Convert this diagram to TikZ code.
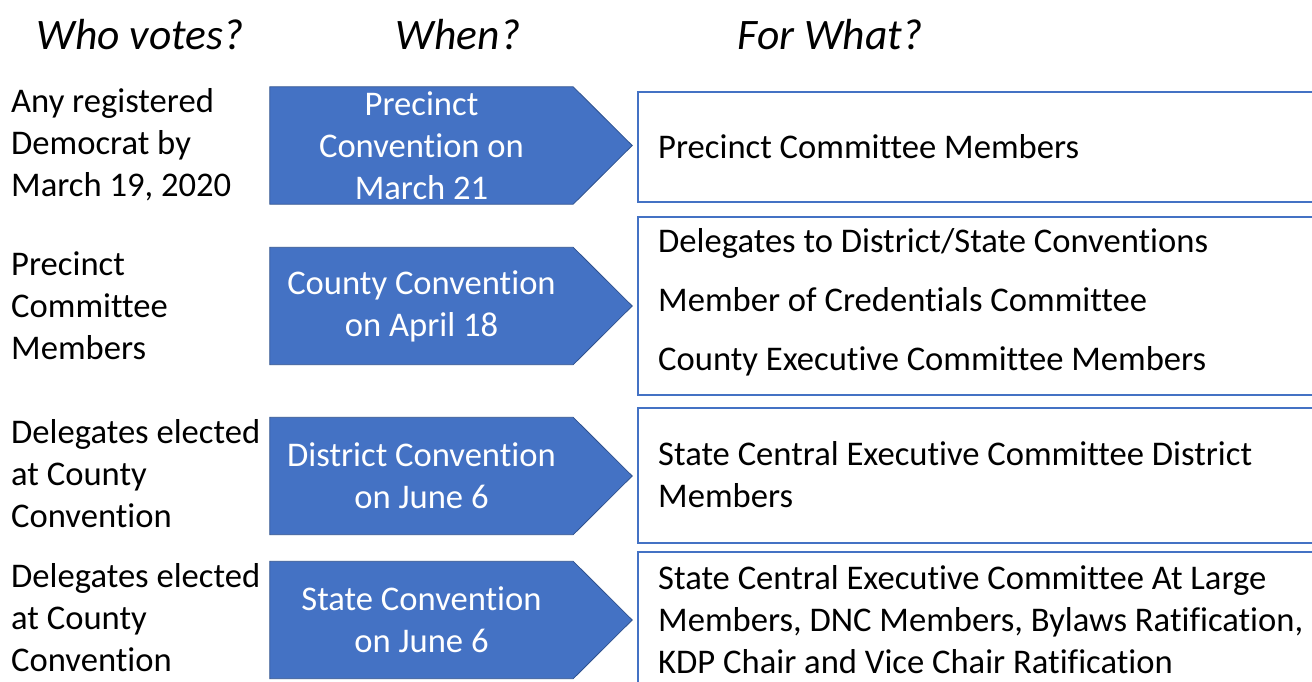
\documentclass[tikz,border=0pt]{standalone}
\usepackage{fontspec}
\setmainfont{Carlito}[Ligatures={NoCommon}]
\usetikzlibrary{backgrounds,calc}
\definecolor{obl}{HTML}{4472C4}
\definecolor{obd}{HTML}{2F528F}
\tikzset{
  x=1pt,y=-1pt,
  title/.style={font=\fontsize{43.5}{50}\selectfont\itshape, inner sep=0pt},
  who/.style={font=\fontsize{34.6}{42}\selectfont, align=left, anchor=west, inner sep=0pt},
  body/.style={minimum width=303pt, minimum height=117pt, inner sep=0pt, text=white, align=center, font=\fontsize{34.6}{42}\selectfont},
  shaft/.style={fill=obl, draw=obd, line width=0.8pt},
  forbox/.style={draw=obl, line width=1.5pt, fill=white},
  what/.style={font=\fontsize{34.6}{42}\selectfont, align=left, anchor=west, inner sep=0pt},
}
\begin{document}
\begin{tikzpicture}
\clip (0,0) rectangle (1312,681);
% titles
\node[title] (t1) at (140,35) {Who votes?};
\node[title] (t2) at (458,35) {When?};
\node[title] (t3) at (830,35) {For What?};
% who
\node[who] (w1) at (11,145) {Any registered\\Democrat by\\March 19, 2020};
\node[who] (w2) at (11,306) {Precinct\\Committee\\Members};
\node[who] (w3) at (11,474) {Delegates elected\\at County\\Convention};
\node[who] (w4) at (11,618) {Delegates elected\\at County\\Convention};
% when arrows
\node[body] (a1) at (421.5,145.5) {Precinct\\Convention on\\March 21};
\node[body] (a2) at (421.5,306) {County Convention\\on April 18};
\node[body] (a3) at (421.5,476) {District Convention\\on June 6};
\node[body] (a4) at (421.5,620) {State Convention\\on June 6};
\begin{scope}[on background layer]
\fill[white] (0,0) rectangle (1312,681);
\foreach \a in {a1,a2,a3,a4}{
  \filldraw[shaft] (\a.north west) -- (\a.north east) -- ($(\a.east)+(59,0)$) -- (\a.south east) -- (\a.south west) -- cycle;
}
\end{scope}
% for what boxes
\draw[forbox] (638,92) rectangle (1330,202);
\draw[forbox] (638,217) rectangle (1330,395);
\draw[forbox] (638,408) rectangle (1330,543);
\draw[forbox] (638,552) rectangle (1330,700);
\node[what] (f1) at (658,147) {Precinct Committee Members};
\node[what] (f2) at (658,302) {Delegates to District/State Conventions\\[17pt]Member of Credentials Committee\\[17pt]County Executive Committee Members};
\node[what] (f3) at (658,475) {State Central Executive Committee District\\Members};
\node[what] (f4) at (658,620) {State Central Executive Committee At Large\\Members, DNC Members, Bylaws Ratification,\\KDP Chair and Vice Chair Ratification};
\end{tikzpicture}
\end{document}
